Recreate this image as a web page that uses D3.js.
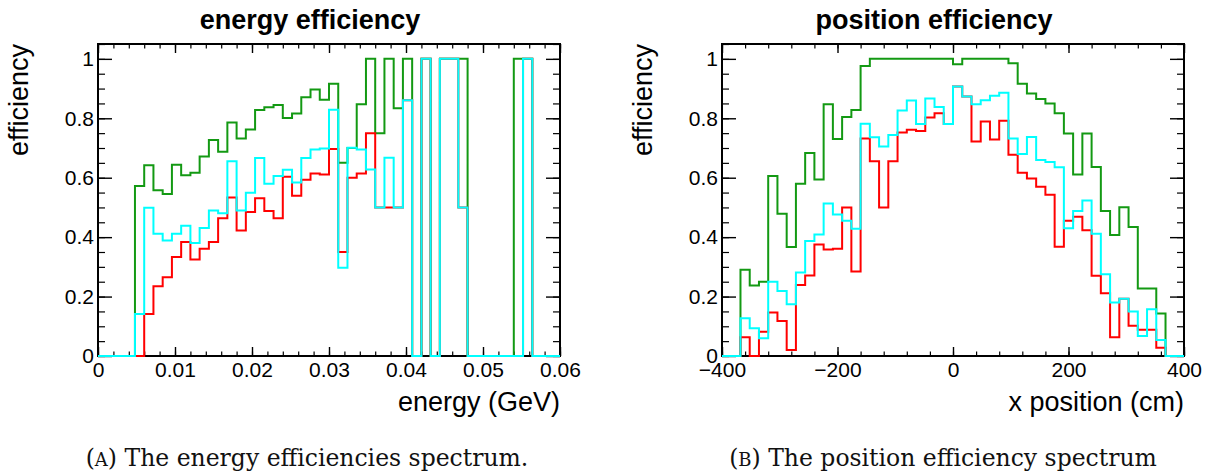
<!DOCTYPE html>
<html>
<head>
<meta charset="utf-8">
<script src="https://cdn.jsdelivr.net/npm/d3@7"></script>
<style>
  html, body { margin: 0; padding: 0; background: #fff; }
  svg { display: block; }
  .tick text { font-family: "Liberation Sans", Arial, sans-serif; }
</style>
</head>
<body>
<svg id="fig" width="1210" height="471"></svg>
<script>
// ---- energy panel: 50 bins over [0, 0.06] GeV ----
const energyRange = [0, 0.06];
const energyGreen = [0, 0, 0, 0, 0.572, 0.642, 0.558, 0.545, 0.644, 0.608,
  0.617, 0.671, 0.727, 0.687, 0.786, 0.732, 0.762, 0.828, 0.837, 0.845,
  0.801, 0.816, 0.871, 0.897, 0.862, 0.916, 0.650, 0.700, 0.847, 1,
  0.750, 1, 0.834, 1, 0, 1, 0, 1, 1, 1,
  0, 0, 0, 0, 0, 1, 1, 0, 0, 0];
const energyRed = [0, 0, 0, 0, 0, 0.141, 0.235, 0.265, 0.333, 0.384,
  0.325, 0.361, 0.384, 0.464, 0.533, 0.422, 0.485, 0.531, 0.488, 0.464,
  0.603, 0.539, 0.593, 0.614, 0.611, 0.697, 0.350, 0.600, 0.614, 0.750,
  0.5, 0.5, 0.5, 0.861, 0, 1, 0, 1, 1, 0.5,
  0, 0, 0, 0, 0, 0, 1, 0, 0, 0];
const energyCyan = [0, 0, 0, 0, 0.141, 0.499, 0.411, 0.389, 0.411, 0.438,
  0.380, 0.431, 0.490, 0.480, 0.655, 0.490, 0.549, 0.666, 0.580, 0.606,
  0.627, 0.584, 0.666, 0.695, 0.698, 0.829, 0.297, 0.701, 0.695, 0.628,
  0.5, 0.667, 0.5, 0.861, 0, 1, 0, 1, 1, 0.5,
  0, 0, 0, 0, 0, 0, 1, 0, 0, 0];
const energyTicks = [0, 0.01, 0.02, 0.03, 0.04, 0.05, 0.06];

// ---- position panel: 50 bins over [-400, 400] cm ----
const positionRange = [-400, 400];
const positionGreen = [0, 0, 0.290, 0.237, 0.250, 0.606, 0.479, 0.367, 0.580, 0.683,
  0.594, 0.847, 0.730, 0.804, 0.828, 0.976, 1, 1, 1, 1,
  1, 1, 1, 1, 1, 0.982, 1, 1, 1, 1,
  1, 0.985, 0.916, 0.883, 0.865, 0.850, 0.817, 0.749, 0.611, 0.749,
  0.636, 0.488, 0.407, 0.501, 0.434, 0.227, 0.227, 0.143, 0, 0];
const positionRed = [0, 0, 0.063, 0, 0.082, 0.146, 0.118, 0.020, 0.239, 0.271,
  0.375, 0.358, 0.361, 0.5, 0.284, 0.732, 0.655, 0.5, 0.655, 0.752,
  0.761, 0.757, 0.803, 0.817, 0.781, 0.907, 0.873, 0.722, 0.789, 0.729,
  0.792, 0.677, 0.617, 0.597, 0.570, 0.543, 0.368, 0.455, 0.469, 0.423,
  0.270, 0.211, 0.063, 0.193, 0.102, 0.088, 0.088, 0.028, 0, 0];
const positionCyan = [0, 0, 0.127, 0.093, 0.060, 0.250, 0.219, 0.174, 0.281, 0.387,
  0.409, 0.513, 0.476, 0.455, 0.428, 0.782, 0.736, 0.705, 0.744, 0.826,
  0.860, 0.781, 0.867, 0.838, 0.781, 0.907, 0.873, 0.847, 0.861, 0.876,
  0.886, 0.732, 0.680, 0.737, 0.660, 0.653, 0.635, 0.430, 0.488, 0.523,
  0.411, 0.275, 0.180, 0.193, 0.150, 0.067, 0.157, 0.054, 0, 0];
const positionTicks = [-400, -200, 0, 200, 400];

const efficiencyTicks = [0, 0.2, 0.4, 0.6, 0.8, 1];

const colors = { green: "#139913", red: "#ff0000", cyan: "#00ffff" };
const sans = '"Liberation Sans", Arial, Helvetica, sans-serif';
const serif = '"DejaVu Serif", "Liberation Serif", serif';

const svg = d3.select("#fig");
svg.append("rect").attr("width", 1210).attr("height", 471).attr("fill", "#fff");

function drawPanel(cfg) {
  const top = 44, bottom = 356;
  const x = d3.scaleLinear().domain(cfg.range).range([cfg.left, cfg.left + 462]);
  const y = d3.scaleLinear().domain([0, 1.05]).range([bottom, top]);
  const g = svg.append("g");

  const nBins = cfg.series[0].values.length;
  const width = (cfg.range[1] - cfg.range[0]) / nBins;
  const minorX = d3.range(Math.round((cfg.range[1] - cfg.range[0]) / cfg.minorStep) + 1)
    .map(i => cfg.range[0] + i * cfg.minorStep);
  const minorY = d3.range(22).map(i => i * 0.05).filter(v => v <= 1.05);

  // minor ticks on all four sides
  const minorStyle = sel => { sel.select(".domain").remove(); sel.selectAll("line").attr("stroke", "#000").attr("stroke-width", 1.2); };
  g.append("g").attr("transform", `translate(0,${bottom})`)
    .call(d3.axisBottom(x).tickValues(minorX).tickSize(-4.5).tickFormat("")).call(minorStyle);
  g.append("g").attr("transform", `translate(0,${top})`)
    .call(d3.axisTop(x).tickValues(minorX).tickSize(-4.5).tickFormat("")).call(minorStyle);
  g.append("g").attr("transform", `translate(${x.range()[0]},0)`)
    .call(d3.axisLeft(y).tickValues(minorY).tickSize(-7).tickFormat("")).call(minorStyle);
  g.append("g").attr("transform", `translate(${x.range()[1]},0)`)
    .call(d3.axisRight(y).tickValues(minorY).tickSize(-7).tickFormat("")).call(minorStyle);

  // major ticks and labels
  const majorStyle = sel => {
    sel.select(".domain").remove();
    sel.selectAll("line").attr("stroke", "#000").attr("stroke-width", 1.4);
    sel.selectAll("text").attr("fill", "#000").attr("font-size", 21).attr("font-family", sans);
  };
  g.append("g").attr("transform", `translate(0,${bottom})`)
    .call(d3.axisBottom(x).tickValues(cfg.ticks).tickSize(-9).tickPadding(6).tickFormat(cfg.tickFormat))
    .call(majorStyle);
  g.append("g").attr("transform", `translate(0,${top})`)
    .call(d3.axisTop(x).tickValues(cfg.ticks).tickSize(-9).tickFormat("")).call(majorStyle);
  g.append("g").attr("transform", `translate(${x.range()[0]},0)`)
    .call(d3.axisLeft(y).tickValues(efficiencyTicks).tickSize(-14).tickPadding(4).tickFormat(d3.format("~g")))
    .call(majorStyle);
  g.append("g").attr("transform", `translate(${x.range()[1]},0)`)
    .call(d3.axisRight(y).tickValues(efficiencyTicks).tickSize(-14).tickFormat("")).call(majorStyle);

  // frame
  g.append("rect")
    .attr("x", x.range()[0]).attr("y", top)
    .attr("width", x.range()[1] - x.range()[0]).attr("height", bottom - top)
    .attr("fill", "none").attr("stroke", "#000").attr("stroke-width", 2);

  // step histograms
  const line = d3.line().x(d => x(d[0])).y(d => y(d[1])).curve(d3.curveStepAfter);
  cfg.series.forEach(s => {
    const pts = s.values.map((v, i) => [cfg.range[0] + i * width, v]);
    pts.push([cfg.range[1], s.values[s.values.length - 1]]);
    g.append("path").datum(pts).attr("d", line)
      .attr("fill", "none").attr("stroke", s.color).attr("stroke-width", 2)
      .attr("stroke-linejoin", "miter");
  });

  // titles
  g.append("text").attr("x", cfg.left + 212).attr("y", 29)
    .attr("text-anchor", "middle").attr("font-family", sans).attr("font-weight", "bold")
    .attr("font-size", 27).text(cfg.title);
  g.append("text").attr("x", x.range()[1]).attr("y", 411)
    .attr("text-anchor", "end").attr("font-family", sans).attr("font-size", 27).text(cfg.xTitle);
  g.append("text").attr("transform", `translate(${cfg.left - 70},${top}) rotate(-90)`)
    .attr("text-anchor", "end").attr("font-family", sans).attr("font-size", 27).text("efficiency");

  // caption with small-caps panel letter
  const cap = g.append("text").attr("x", cfg.captionX).attr("y", 466)
    .attr("text-anchor", "middle").attr("font-family", serif).attr("font-size", 23.5).attr("fill", "#111");
  cap.append("tspan").text("(");
  cap.append("tspan").attr("font-size", 18).text(cfg.letter);
  cap.append("tspan").text(") " + cfg.caption);
}

drawPanel({
  left: 98, range: energyRange, ticks: energyTicks, minorStep: 0.002,
  tickFormat: d => d === 0 ? "0" : d3.format(".2f")(d),
  title: "energy efficiency", xTitle: "energy (GeV)",
  captionX: 307, letter: "A", caption: "The energy efficiencies spectrum.",
  series: [
    { values: energyGreen, color: colors.green },
    { values: energyRed, color: colors.red },
    { values: energyCyan, color: colors.cyan }
  ]
});

drawPanel({
  left: 722, range: positionRange, ticks: positionTicks, minorStep: 40,
  tickFormat: d3.format("d"),
  title: "position efficiency", xTitle: "x position (cm)",
  captionX: 943, letter: "B", caption: "The position efficiency spectrum",
  series: [
    { values: positionGreen, color: colors.green },
    { values: positionRed, color: colors.red },
    { values: positionCyan, color: colors.cyan }
  ]
});
</script>
</body>
</html>
